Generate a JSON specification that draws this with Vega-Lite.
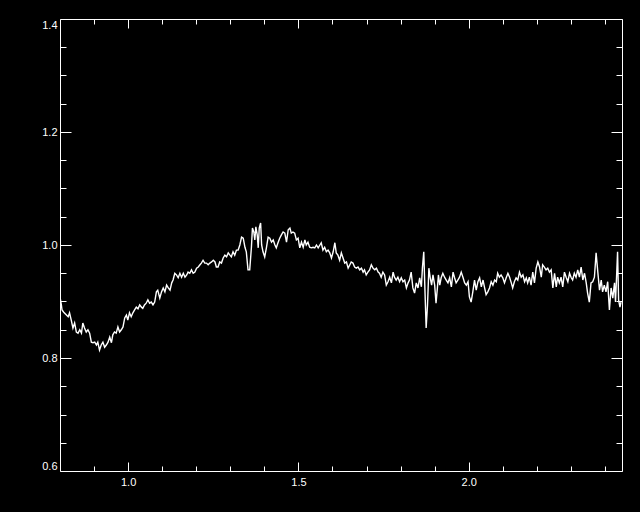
{
  "$schema": "https://vega.github.io/schema/vega-lite/v6.json",
  "width": 562,
  "height": 452,
  "autosize": {"type": "none"},
  "padding": {"left": 60, "top": 19, "right": 18, "bottom": 41},
  "background": "black",
  "view": {"stroke": null},
  "config": {
    "axis": {
      "domainColor": "white", "domainWidth": 1, "tickColor": "white", "tickWidth": 1,
      "labelColor": "white", "labelFont": "Liberation Sans", "labelFontSize": 11,
      "grid": false, "title": null
    }
  },
  "data": {"values": [
    {"x":0.800,"y":0.908},{"x":0.804,"y":0.894},{"x":0.806,"y":0.885},{"x":0.811,"y":0.881},{"x":0.819,"y":0.876},{"x":0.824,"y":0.873},{"x":0.828,"y":0.880},{"x":0.833,"y":0.867},{"x":0.838,"y":0.853},{"x":0.843,"y":0.862},{"x":0.848,"y":0.846},{"x":0.853,"y":0.844},{"x":0.858,"y":0.850},{"x":0.863,"y":0.844},{"x":0.867,"y":0.862},{"x":0.872,"y":0.853},{"x":0.877,"y":0.846},{"x":0.882,"y":0.850},{"x":0.887,"y":0.844},{"x":0.892,"y":0.828},{"x":0.897,"y":0.827},{"x":0.902,"y":0.828},{"x":0.907,"y":0.823},{"x":0.911,"y":0.828},{"x":0.916,"y":0.814},{"x":0.921,"y":0.823},{"x":0.926,"y":0.828},{"x":0.931,"y":0.819},{"x":0.936,"y":0.823},{"x":0.941,"y":0.828},{"x":0.946,"y":0.837},{"x":0.951,"y":0.827},{"x":0.955,"y":0.841},{"x":0.960,"y":0.846},{"x":0.965,"y":0.844},{"x":0.970,"y":0.855},{"x":0.975,"y":0.846},{"x":0.980,"y":0.850},{"x":0.985,"y":0.855},{"x":0.990,"y":0.871},{"x":0.995,"y":0.876},{"x":0.999,"y":0.867},{"x":1.004,"y":0.880},{"x":1.009,"y":0.873},{"x":1.014,"y":0.880},{"x":1.019,"y":0.885},{"x":1.024,"y":0.890},{"x":1.029,"y":0.887},{"x":1.034,"y":0.894},{"x":1.039,"y":0.890},{"x":1.043,"y":0.888},{"x":1.048,"y":0.894},{"x":1.053,"y":0.897},{"x":1.058,"y":0.903},{"x":1.063,"y":0.897},{"x":1.068,"y":0.899},{"x":1.073,"y":0.894},{"x":1.078,"y":0.899},{"x":1.083,"y":0.917},{"x":1.087,"y":0.920},
    {"x":1.093,"y":0.906},{"x":1.098,"y":0.917},{"x":1.103,"y":0.924},{"x":1.108,"y":0.917},{"x":1.113,"y":0.929},{"x":1.118,"y":0.924},{"x":1.123,"y":0.920},{"x":1.128,"y":0.933},{"x":1.132,"y":0.938},{"x":1.137,"y":0.950},{"x":1.142,"y":0.947},{"x":1.147,"y":0.942},{"x":1.152,"y":0.950},{"x":1.157,"y":0.943},{"x":1.162,"y":0.950},{"x":1.167,"y":0.943},{"x":1.172,"y":0.947},{"x":1.176,"y":0.952},{"x":1.181,"y":0.950},{"x":1.186,"y":0.956},{"x":1.191,"y":0.950},{"x":1.196,"y":0.952},{"x":1.201,"y":0.959},{"x":1.206,"y":0.961},{"x":1.211,"y":0.965},{"x":1.215,"y":0.968},{"x":1.220,"y":0.973},{"x":1.225,"y":0.968},{"x":1.230,"y":0.968},{"x":1.235,"y":0.965},{"x":1.240,"y":0.968},{"x":1.245,"y":0.970},{"x":1.250,"y":0.973},{"x":1.255,"y":0.970},{"x":1.259,"y":0.961},{"x":1.264,"y":0.961},{"x":1.269,"y":0.970},{"x":1.274,"y":0.968},{"x":1.279,"y":0.977},{"x":1.284,"y":0.982},{"x":1.289,"y":0.979},{"x":1.294,"y":0.986},{"x":1.299,"y":0.982},{"x":1.303,"y":0.979},{"x":1.308,"y":0.988},{"x":1.313,"y":0.982},{"x":1.318,"y":0.991},{"x":1.323,"y":0.991},{"x":1.328,"y":1.000},{"x":1.333,"y":1.014},{"x":1.338,"y":1.012},{"x":1.343,"y":0.996},{"x":1.347,"y":0.988},{"x":1.352,"y":0.956},{"x":1.357,"y":0.956},{"x":1.362,"y":0.996},
    {"x":1.365,"y":1.030},{"x":1.369,"y":1.023},{"x":1.372,"y":1.009},{"x":1.375,"y":1.032},{"x":1.379,"y":1.018},{"x":1.382,"y":0.995},{"x":1.385,"y":1.030},{"x":1.389,"y":1.039},{"x":1.392,"y":1.000},{"x":1.396,"y":0.988},{"x":1.401,"y":0.979},{"x":1.406,"y":0.995},{"x":1.411,"y":1.014},{"x":1.416,"y":1.012},{"x":1.421,"y":1.005},{"x":1.426,"y":1.009},{"x":1.431,"y":1.000},{"x":1.435,"y":0.995},{"x":1.440,"y":1.004},{"x":1.445,"y":1.012},{"x":1.450,"y":1.018},{"x":1.455,"y":1.023},{"x":1.460,"y":1.021},{"x":1.465,"y":1.005},{"x":1.470,"y":1.027},{"x":1.475,"y":1.030},{"x":1.479,"y":1.021},{"x":1.484,"y":1.023},{"x":1.489,"y":1.021},{"x":1.494,"y":1.009},{"x":1.499,"y":1.012},{"x":1.504,"y":0.995},{"x":1.509,"y":1.005},{"x":1.514,"y":0.996},{"x":1.519,"y":1.009},{"x":1.523,"y":1.000},{"x":1.528,"y":1.005},{"x":1.533,"y":0.996},{"x":1.538,"y":0.995},{"x":1.543,"y":0.996},{"x":1.548,"y":0.995},{"x":1.553,"y":1.000},{"x":1.558,"y":0.995},{"x":1.563,"y":1.000},{"x":1.567,"y":1.004},{"x":1.572,"y":0.991},{"x":1.577,"y":0.996},{"x":1.582,"y":0.988},{"x":1.587,"y":0.991},{"x":1.592,"y":0.986},{"x":1.597,"y":0.977},{"x":1.602,"y":0.988},{"x":1.607,"y":1.004},{"x":1.611,"y":0.986},{"x":1.616,"y":0.982},{"x":1.621,"y":0.973},{"x":1.626,"y":0.986},{"x":1.631,"y":0.977},{"x":1.636,"y":0.968},{"x":1.641,"y":0.970},{"x":1.646,"y":0.959},{"x":1.651,"y":0.965},
    {"x":1.655,"y":0.970},{"x":1.660,"y":0.968},{"x":1.665,"y":0.961},{"x":1.670,"y":0.959},{"x":1.675,"y":0.961},{"x":1.680,"y":0.956},{"x":1.685,"y":0.959},{"x":1.690,"y":0.952},{"x":1.694,"y":0.956},{"x":1.699,"y":0.947},{"x":1.704,"y":0.952},{"x":1.709,"y":0.956},{"x":1.714,"y":0.965},{"x":1.719,"y":0.959},{"x":1.724,"y":0.956},{"x":1.729,"y":0.959},{"x":1.734,"y":0.952},{"x":1.738,"y":0.950},{"x":1.743,"y":0.943},{"x":1.748,"y":0.952},{"x":1.753,"y":0.947},{"x":1.758,"y":0.929},{"x":1.763,"y":0.935},{"x":1.768,"y":0.943},{"x":1.773,"y":0.933},{"x":1.778,"y":0.952},{"x":1.782,"y":0.943},{"x":1.787,"y":0.938},{"x":1.792,"y":0.943},{"x":1.797,"y":0.935},{"x":1.802,"y":0.942},{"x":1.807,"y":0.935},{"x":1.812,"y":0.938},{"x":1.817,"y":0.924},{"x":1.822,"y":0.933},{"x":1.826,"y":0.938},{"x":1.831,"y":0.952},{"x":1.836,"y":0.924},{"x":1.841,"y":0.915},{"x":1.846,"y":0.933},{"x":1.851,"y":0.924},{"x":1.856,"y":0.942},{"x":1.861,"y":0.926},{"x":1.864,"y":0.959},{"x":1.868,"y":0.988},{"x":1.871,"y":0.929},{"x":1.875,"y":0.853},{"x":1.879,"y":0.894},{"x":1.883,"y":0.959},{"x":1.887,"y":0.942},{"x":1.891,"y":0.929},{"x":1.895,"y":0.947},{"x":1.900,"y":0.929},{"x":1.904,"y":0.897},{"x":1.908,"y":0.924},{"x":1.911,"y":0.947},{"x":1.915,"y":0.929},{"x":1.919,"y":0.942},{"x":1.924,"y":0.950},
    {"x":1.929,"y":0.943},{"x":1.934,"y":0.938},{"x":1.939,"y":0.933},{"x":1.944,"y":0.942},{"x":1.949,"y":0.926},{"x":1.954,"y":0.952},{"x":1.958,"y":0.943},{"x":1.963,"y":0.933},{"x":1.968,"y":0.938},{"x":1.973,"y":0.943},{"x":1.978,"y":0.952},{"x":1.983,"y":0.943},{"x":1.988,"y":0.933},{"x":1.993,"y":0.929},{"x":1.998,"y":0.935},{"x":2.002,"y":0.908},{"x":2.007,"y":0.899},{"x":2.012,"y":0.917},{"x":2.017,"y":0.938},{"x":2.022,"y":0.920},{"x":2.027,"y":0.935},{"x":2.032,"y":0.942},{"x":2.037,"y":0.926},{"x":2.042,"y":0.938},{"x":2.046,"y":0.926},{"x":2.051,"y":0.912},{"x":2.056,"y":0.917},{"x":2.061,"y":0.924},{"x":2.066,"y":0.935},{"x":2.071,"y":0.929},{"x":2.076,"y":0.938},{"x":2.081,"y":0.935},{"x":2.085,"y":0.950},{"x":2.090,"y":0.943},{"x":2.095,"y":0.947},{"x":2.100,"y":0.942},{"x":2.105,"y":0.933},{"x":2.110,"y":0.942},{"x":2.115,"y":0.950},{"x":2.120,"y":0.943},{"x":2.125,"y":0.933},{"x":2.129,"y":0.924},{"x":2.134,"y":0.935},{"x":2.139,"y":0.942},{"x":2.144,"y":0.938},{"x":2.149,"y":0.952},{"x":2.154,"y":0.943},{"x":2.159,"y":0.947},{"x":2.164,"y":0.935},{"x":2.169,"y":0.942},{"x":2.173,"y":0.933},{"x":2.178,"y":0.943},{"x":2.183,"y":0.929},{"x":2.188,"y":0.952},{"x":2.193,"y":0.933},
    {"x":2.198,"y":0.959},{"x":2.203,"y":0.970},{"x":2.208,"y":0.961},{"x":2.213,"y":0.943},{"x":2.217,"y":0.965},{"x":2.222,"y":0.961},{"x":2.227,"y":0.956},{"x":2.232,"y":0.959},{"x":2.237,"y":0.952},{"x":2.242,"y":0.956},{"x":2.247,"y":0.924},{"x":2.252,"y":0.950},{"x":2.257,"y":0.926},{"x":2.261,"y":0.943},{"x":2.266,"y":0.933},{"x":2.271,"y":0.943},{"x":2.276,"y":0.926},{"x":2.281,"y":0.952},{"x":2.286,"y":0.943},{"x":2.291,"y":0.935},{"x":2.296,"y":0.950},{"x":2.301,"y":0.942},{"x":2.305,"y":0.938},{"x":2.310,"y":0.950},{"x":2.315,"y":0.943},{"x":2.320,"y":0.956},{"x":2.325,"y":0.943},{"x":2.330,"y":0.961},{"x":2.335,"y":0.938},{"x":2.340,"y":0.950},{"x":2.345,"y":0.933},{"x":2.349,"y":0.915},{"x":2.354,"y":0.899},{"x":2.359,"y":0.933},{"x":2.364,"y":0.935},{"x":2.369,"y":0.943},{"x":2.374,"y":0.986},{"x":2.379,"y":0.952},{"x":2.384,"y":0.920},{"x":2.389,"y":0.938},{"x":2.393,"y":0.917},{"x":2.398,"y":0.929},{"x":2.403,"y":0.917},{"x":2.408,"y":0.935},{"x":2.413,"y":0.885},{"x":2.418,"y":0.924},{"x":2.423,"y":0.906},{"x":2.428,"y":0.933},{"x":2.431,"y":0.899},{"x":2.434,"y":0.943},{"x":2.437,"y":0.988},{"x":2.440,"y":0.903},{"x":2.444,"y":0.890},{"x":2.447,"y":0.899}
  ]},
  "layer": [
    {
      "mark": {"type": "line", "stroke": "white", "strokeWidth": 1.4, "clip": true},
      "encoding": {
        "x": {"field": "x", "type": "quantitative",
          "scale": {"domain": [0.8, 2.45], "nice": false, "zero": false},
          "axis": {"orient": "bottom",
            "values": [0.9,1.0,1.1,1.2,1.3,1.4,1.5,1.6,1.7,1.8,1.9,2.0,2.1,2.2,2.3,2.4],
            "tickSize": {"condition": {"test": "abs(datum.value*2 - round(datum.value*2)) < 0.001", "value": -9}, "value": -5},
            "labelExpr": "abs(datum.value*2 - round(datum.value*2)) < 0.001 ? format(datum.value, '.1f') : ''",
            "labelPadding": 14, "labelFlush": false, "labelOverlap": false}},
        "y": {"field": "y", "type": "quantitative",
          "scale": {"domain": [0.6, 1.4], "nice": false, "zero": false},
          "axis": {"orient": "left",
            "values": [0.6,0.65,0.7,0.75,0.8,0.85,0.9,0.95,1.0,1.05,1.1,1.15,1.2,1.25,1.3,1.35,1.4],
            "tickSize": {"condition": {"test": "abs(datum.value*5 - round(datum.value*5)) < 0.001", "value": -11}, "value": -6},
            "labelExpr": "abs(datum.value*5 - round(datum.value*5)) < 0.001 ? format(datum.value, '.1f') : ''",
            "labelPadding": 14, "labelFlush": true, "labelOverlap": false}}
      }
    },
    {
      "mark": {"type": "line", "strokeOpacity": 0},
      "encoding": {
        "x": {"field": "x", "type": "quantitative",
          "scale": {"domain": [0.8, 2.45], "nice": false, "zero": false},
          "axis": {"orient": "top", "labels": false,
            "values": [0.9,1.0,1.1,1.2,1.3,1.4,1.5,1.6,1.7,1.8,1.9,2.0,2.1,2.2,2.3,2.4],
            "tickSize": {"condition": {"test": "abs(datum.value*2 - round(datum.value*2)) < 0.001", "value": -9}, "value": -5}}},
        "y": {"field": "y", "type": "quantitative",
          "scale": {"domain": [0.6, 1.4], "nice": false, "zero": false},
          "axis": {"orient": "right", "labels": false,
            "values": [0.6,0.65,0.7,0.75,0.8,0.85,0.9,0.95,1.0,1.05,1.1,1.15,1.2,1.25,1.3,1.35,1.4],
            "tickSize": {"condition": {"test": "abs(datum.value*5 - round(datum.value*5)) < 0.001", "value": -11}, "value": -6}}}
      }
    }
  ],
  "resolve": {"scale": {"x": "independent", "y": "independent"}, "axis": {"x": "independent", "y": "independent"}}
}
